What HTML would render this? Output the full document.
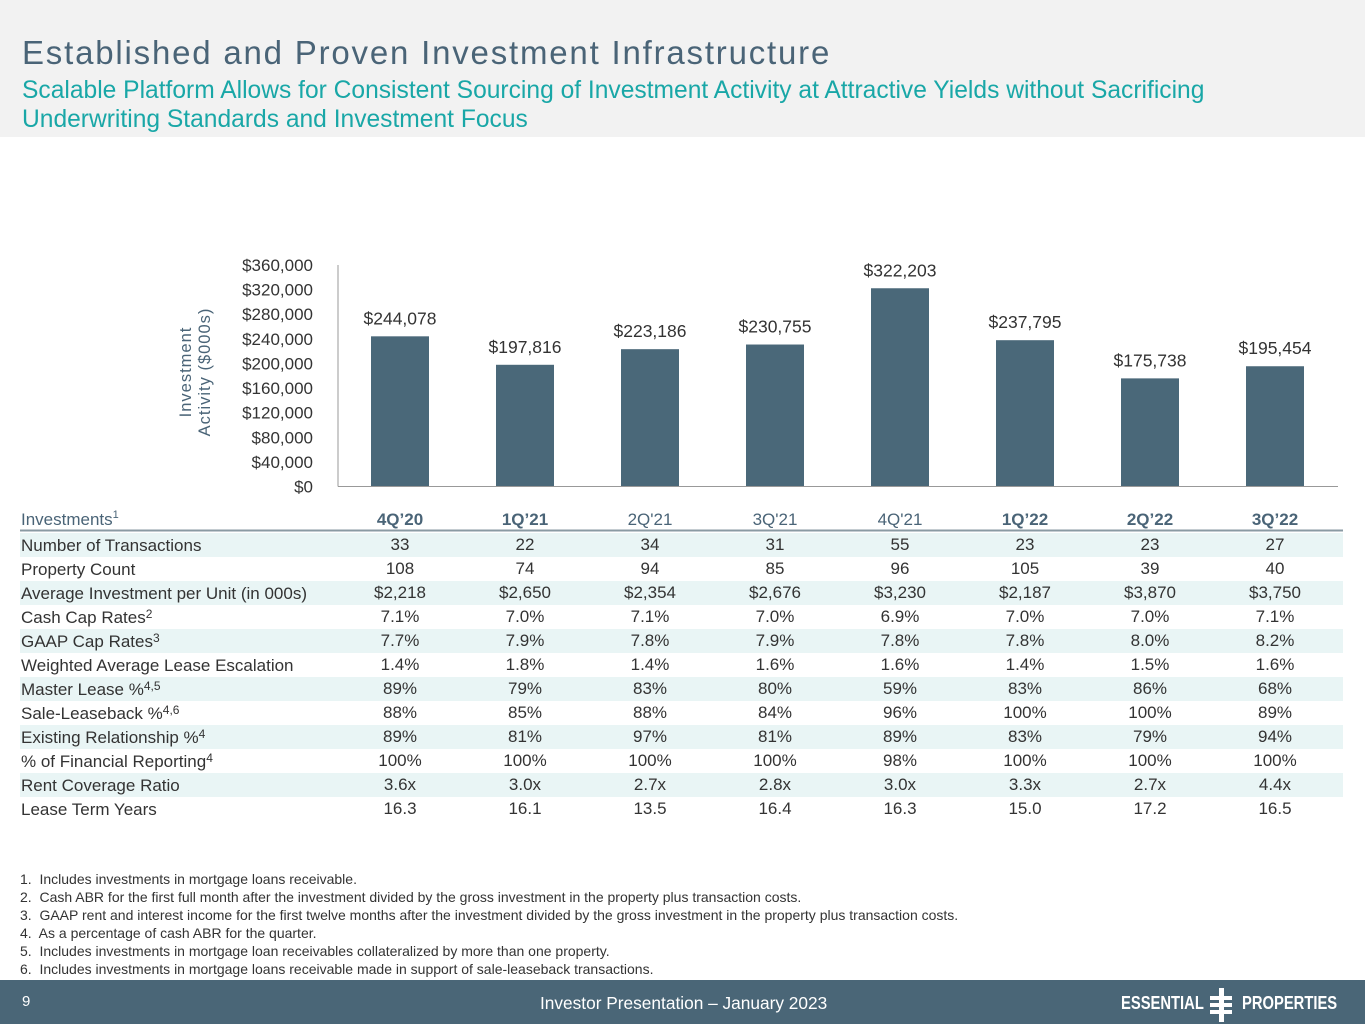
<!DOCTYPE html>
<html><head><meta charset="utf-8"><style>
body{margin:0;width:1365px;height:1024px;position:relative;overflow:hidden;background:#fff;font-family:"Liberation Sans",sans-serif}
#hdr{position:absolute;left:0;top:0;width:1365px;height:137px;background:#f2f2f2}
#title{position:absolute;left:22px;top:34px;font-size:33px;color:#4a6477;letter-spacing:1.8px;white-space:nowrap}
#sub{position:absolute;left:22px;top:76px;font-size:24.6px;color:#19a7a7;line-height:29px;width:1300px}
#foot{position:absolute;left:0;top:980px;width:1365px;height:44px;background:#4a6677;color:#fff}
.fn{position:absolute;left:20px;font-size:14px;color:#333;white-space:nowrap}
</style></head><body>
<div id="hdr"></div>
<div id="title">Established and Proven Investment Infrastructure</div>
<div id="sub">Scalable Platform Allows for Consistent Sourcing of Investment Activity at Attractive Yields without Sacrificing<br>Underwriting Standards and Investment Focus</div>
<svg id="chart" width="1365" height="830" style="position:absolute;left:0;top:0"></svg>
<div class="fn" style="top:871px">1.&nbsp; Includes investments in mortgage loans receivable.</div>
<div class="fn" style="top:889px">2.&nbsp; Cash ABR for the first full month after the investment divided by the gross investment in the property plus transaction costs.</div>
<div class="fn" style="top:907px">3.&nbsp; GAAP rent and interest income for the first twelve months after the investment divided by the gross investment in the property plus transaction costs.</div>
<div class="fn" style="top:925px">4.&nbsp; As a percentage of cash ABR for the quarter.</div>
<div class="fn" style="top:943px">5.&nbsp; Includes investments in mortgage loan receivables collateralized by more than one property.</div>
<div class="fn" style="top:961px">6.&nbsp; Includes investments in mortgage loans receivable made in support of sale-leaseback transactions.</div>
<div id="foot">
<div style="position:absolute;left:22px;top:13px;font-size:15px">9</div>
<div style="position:absolute;left:540px;top:13px;font-size:17.3px">Investor Presentation – January 2023</div>
<div style="position:absolute;left:1121px;top:13px;font-size:18px;font-weight:bold;transform:scaleX(0.82);transform-origin:left">ESSENTIAL</div>
<div style="position:absolute;left:1208px;top:8px;width:26px;height:32px">
<div style="position:absolute;left:11px;top:0;width:5px;height:34px;background:#fff"></div>
<div style="position:absolute;left:2px;top:8px;width:22px;height:4px;background:#fff"></div>
<div style="position:absolute;left:2px;top:15px;width:22px;height:4px;background:#fff"></div>
<div style="position:absolute;left:2px;top:22px;width:22px;height:4px;background:#fff"></div></div>
<div style="position:absolute;left:1242px;top:13px;font-size:18px;font-weight:bold;transform:scaleX(0.82);transform-origin:left">PROPERTIES</div>
</div>
<script>
const categories=["4Q’20","1Q’21","2Q'21","3Q'21","4Q'21","1Q’22","2Q’22","3Q’22"];
const boldCats=[true,true,false,false,false,true,true,true];
const values=[244078,197816,223186,230755,322203,237795,175738,195454];
const yTicks=[0,40000,80000,120000,160000,200000,240000,280000,320000,360000];
const rowLabels=["Number of Transactions","Property Count","Average Investment per Unit (in 000s)","Cash Cap Rates","GAAP Cap Rates","Weighted Average Lease Escalation","Master Lease %","Sale-Leaseback %","Existing Relationship %","% of Financial Reporting","Rent Coverage Ratio","Lease Term Years"];
const rowSups=["","","","2","3","","4,5","4,6","4","4","",""];
const rowData=[
["33","22","34","31","55","23","23","27"],
["108","74","94","85","96","105","39","40"],
["$2,218","$2,650","$2,354","$2,676","$3,230","$2,187","$3,870","$3,750"],
["7.1%","7.0%","7.1%","7.0%","6.9%","7.0%","7.0%","7.1%"],
["7.7%","7.9%","7.8%","7.9%","7.8%","7.8%","8.0%","8.2%"],
["1.4%","1.8%","1.4%","1.6%","1.6%","1.4%","1.5%","1.6%"],
["89%","79%","83%","80%","59%","83%","86%","68%"],
["88%","85%","88%","84%","96%","100%","100%","89%"],
["89%","81%","97%","81%","89%","83%","79%","94%"],
["100%","100%","100%","100%","98%","100%","100%","100%"],
["3.6x","3.0x","2.7x","2.8x","3.0x","3.3x","2.7x","4.4x"],
["16.3","16.1","13.5","16.4","16.3","15.0","17.2","16.5"]];
const svg=document.getElementById('chart');const NS="http://www.w3.org/2000/svg";
function mk(t,a,txt){const e=document.createElementNS(NS,t);for(const k in a)e.setAttribute(k,a[k]);if(txt!=null)e.textContent=txt;svg.appendChild(e);return e;}
const x0=338,x1=1338,yb=486.5,yt=265;
const y=v=>yb-(v/360000)*(yb-yt);
const xc=i=>x0+62+i*125;
const fmt=v=>"$"+v.toLocaleString("en-US");
yTicks.forEach(t=>{const e=mk('text',{x:313,y:y(t)+6,'text-anchor':'end','font-size':17,fill:'#333'},fmt(t));

});
let at=mk('text',{transform:'translate(199,372) rotate(-90)','text-anchor':'middle','font-size':16.5,fill:'#4a6477','letter-spacing':'1'});


at.innerHTML='<tspan x="0" dy="-8">Investment</tspan><tspan x="0" dy="19">Activity ($000s)</tspan>';
values.forEach((v,i)=>{const b=mk('rect',{x:xc(i)-29,y:y(v),width:58,height:yb-y(v),fill:'#4a6879'});


const l=mk('text',{x:xc(i),y:y(v)-12,'text-anchor':'middle','font-size':17.5,fill:'#333'},fmt(v));

});
let ax=mk('line',{x1:x0,y1:265,x2:x0,y2:yb,stroke:'#999','stroke-width':1});


let bl=mk('line',{x1:x0,y1:yb,x2:x1,y2:yb,stroke:'#999','stroke-width':1});


const tTop=533,rh=24;
let hl=mk('text',{x:21,y:525,'font-size':17,fill:'#4a6477'});


hl.innerHTML='Investments<tspan font-size="11" dy="-7">1</tspan>';
categories.forEach((c,i)=>{const e=mk('text',{x:xc(i),y:525,'text-anchor':'middle','font-size':17,fill:'#4a6477','font-weight':boldCats[i]?'bold':'normal'},c);

});
let hline=mk('line',{x1:20,y1:530.5,x2:1343,y2:530.5,stroke:'#8a9aa3','stroke-width':2});


rowLabels.forEach((lab,r)=>{const top=tTop+r*rh;
if(r%2==0){const s=mk('rect',{x:20,y:top,width:1323,height:rh,fill:'#e9f5f5'});

}
const t=mk('text',{x:21,y:top+18,'font-size':17,fill:'#333'});


t.textContent=lab;
if(rowSups[r]){const sp=document.createElementNS(NS,'tspan');sp.setAttribute('font-size','12');sp.setAttribute('dy','-5');sp.textContent=rowSups[r];t.appendChild(sp);}
rowData[r].forEach((v,i)=>{const c=mk('text',{x:xc(i),y:top+17,'text-anchor':'middle','font-size':17,fill:'#333'},v);

});});
</script>
</body></html>
